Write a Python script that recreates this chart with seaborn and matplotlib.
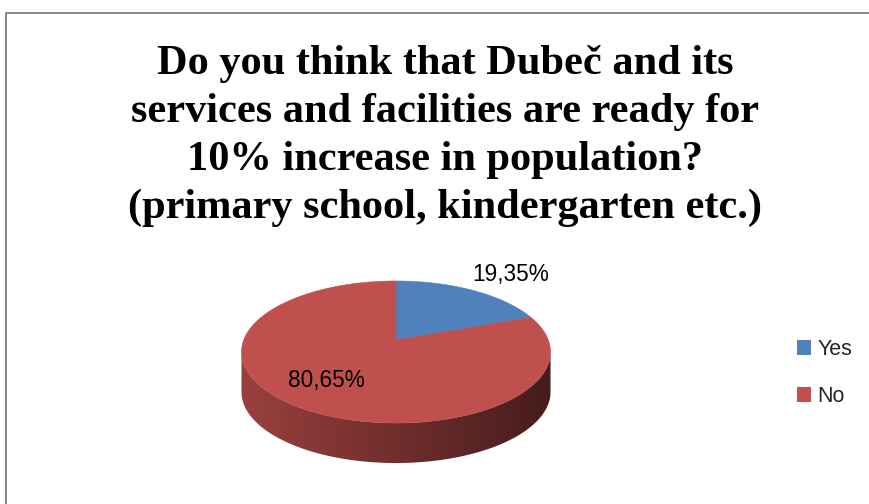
import numpy as np
import matplotlib
matplotlib.use("Agg")
import matplotlib.pyplot as plt
from matplotlib.patches import Polygon, Patch
from matplotlib.colors import to_rgb
import seaborn as sns

# Survey answers
categories = ["Yes", "No"]
shares = [19.35, 80.65]
share_labels = ["19,35%", "80,65%"]
slice_colors = ["#4F81BD", "#C0504D"]
title_lines = [
    "Do you think that Dubeč and its",
    "services and facilities are ready for",
    "10% increase in population?",
    "(primary school, kindergarten etc.)",
]

sns.set_theme(style="white")
plt.rcParams["font.family"] = ["Liberation Sans", "DejaVu Sans"]

W, H = 869, 504
fig = plt.figure(figsize=(W / 100, H / 100), dpi=100)
ax = fig.add_axes([0, 0, 1, 1])

# Tilted disc seen in perspective: centre, semi-axes, perspective strength, thickness
CX, CY = 396, 340
A, B, P = 152.3, 69.0, 0.169
DEPTH = 40


def rim(theta_deg, r=1.0):
    t = np.radians(theta_deg)
    u, v = r * np.cos(t), r * np.sin(t)
    w = 1 + P * v
    return CX + A * u / w, CY - B * v / w


# Slice boundaries, starting at 12 o'clock and running clockwise
bounds = 90 - 360 * np.concatenate([[0], np.cumsum(shares)]) / 100.0

# Front band of the rim that is visible from the viewer
edge = np.degrees(np.arcsin(P))
front_lo, front_hi = -180 + edge, -edge
x_extent = A / np.sqrt(1 - P ** 2)

# Sides (drawn first, shaded left to right)
for i, col in enumerate(slice_colors):
    t_start, t_end = bounds[i], bounds[i + 1]
    base = np.array(to_rgb(col))
    for k in (-1, 0, 1):
        lo = max(t_end, front_lo + 360 * k)
        hi = min(t_start, front_hi + 360 * k)
        if hi <= lo:
            continue
        th = np.linspace(lo, hi, 200)
        xs, ys = rim(th)
        pts = np.column_stack([np.r_[xs, xs[::-1]], np.r_[ys, ys[::-1] + DEPTH]])
        side = Polygon(pts, closed=True, facecolor="none", edgecolor="none")
        ax.add_patch(side)
        f = np.linspace(0.80, 0.36, 256)[:, None]
        grad = (base[None, :] * f)[None, :, :]
        im = ax.imshow(grad, extent=(CX - x_extent, CX + x_extent, CY + 140, CY - 80),
                       aspect="auto", interpolation="bilinear", zorder=1)
        im.set_clip_path(side)

# Top faces
for i, col in enumerate(slice_colors):
    th = np.linspace(bounds[i], bounds[i + 1], 300)
    xs, ys = rim(th)
    pts = np.column_stack([np.r_[CX, xs], np.r_[CY, ys]])
    ax.add_patch(Polygon(pts, closed=True, facecolor=col, edgecolor=col,
                         linewidth=0.4, zorder=2))

# Percentage labels
label_radius = [1.62, 0.72]
label_shift = [9, -5]
for i, txt in enumerate(share_labels):
    mid = (bounds[i] + bounds[i + 1]) / 2
    lx, ly = rim(mid, label_radius[i])
    ax.text(lx, ly + label_shift[i], txt, ha="center", va="center",
            fontsize=16.3, color="black", zorder=3)

ax.set_xlim(0, W)
ax.set_ylim(H, 0)
ax.axis("off")

# Chart area border
ax.plot([6, 6, W + 5], [H + 5, 13, 13], color="#868686", lw=1.4, zorder=0,
        solid_capstyle="projecting")

# Title
fig.text(445 / W, 1 - 45 / H, "\n".join(title_lines), ha="center", va="top",
         fontsize=30.5, fontweight="bold", family=["Liberation Serif", "DejaVu Serif"],
         linespacing=1.34, color="black")

# Legend
handles = [Patch(facecolor=c, edgecolor="none") for c in slice_colors]
ax.legend(handles, categories, loc="center left",
          bbox_to_anchor=(797 / W, 1 - 373 / H), bbox_transform=fig.transFigure,
          frameon=False, fontsize=15.5, handlelength=0.66, handleheight=0.66,
          handletextpad=0.3, labelspacing=1.22, borderpad=0, borderaxespad=0)

fig.savefig("out.png", dpi=100, facecolor="white")
